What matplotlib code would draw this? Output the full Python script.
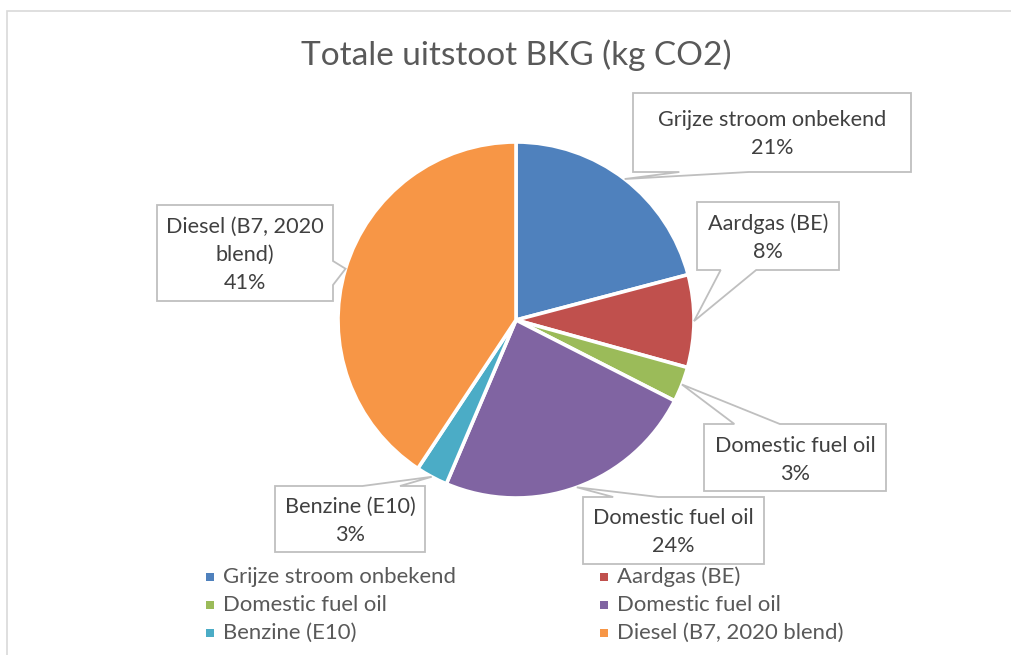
import numpy as np
import matplotlib
matplotlib.use('Agg')
import matplotlib.pyplot as plt
from matplotlib.patches import Polygon, Rectangle

# Data (percent of total CO2)
labels = ['Grijze stroom onbekend', 'Aardgas (BE)', 'Domestic fuel oil',
          'Domestic fuel oil', 'Benzine (E10)', 'Diesel (B7, 2020 blend)']
callout_text = [['Grijze stroom onbekend'], ['Aardgas (BE)'], ['Domestic fuel oil'],
                ['Domestic fuel oil'], ['Benzine (E10)'], ['Diesel (B7, 2020', 'blend)']]
values = [20.9, 8.4, 3.2, 23.9, 2.9, 40.7]
colors = ['#4F81BD', '#C0504D', '#9BBB59', '#8064A2', '#4BACC6', '#F79646']

W, H = 1011, 655
FONT = 'Lato'


def Y(py):
    # pixel row (from top) -> data y
    return H - py


# callout boxes in pixels: x0, y0(top), x1, y1(bottom)
boxes = [(633, 93, 911, 172), (697, 202, 839, 270), (704, 424, 886, 491),
         (583, 497, 764, 564), (275, 486, 425, 552), (157, 205, 333, 301)]

fig = plt.figure(figsize=(W / 100, H / 100), dpi=100)
ax = fig.add_axes([0, 0, 1, 1])

cx, cy, r = 516, Y(320), 178
wedges, _ = ax.pie(values, colors=colors, startangle=90, counterclock=False,
                   center=(cx, cy), radius=r,
                   wedgeprops=dict(edgecolor='white', linewidth=2.6))
ax.set_xlim(0, W)
ax.set_ylim(0, H)
ax.set_aspect('equal')
ax.axis('off')

# chart frame
ax.add_patch(Rectangle((7, Y(1000)), 2000, 1000 - 11, fill=False,
                       edgecolor='#D9D9D9', linewidth=1.2))

ax.text(516, Y(55), 'Totale uitstoot BKG (kg CO2)', ha='center', va='center',
        fontsize=24, color='#595959', family=FONT)


def callout(box, tip, lines, pct):
    x0, y0, x1, y1 = box
    top, bot = Y(y0), Y(y1)
    tx, ty = tip
    w, h = x1 - x0, top - bot
    # pick the side facing the tip
    if ty < bot:
        side = 'bottom'
    elif ty > top:
        side = 'top'
    elif tx < x0:
        side = 'left'
    else:
        side = 'right'
    if side in ('top', 'bottom'):
        near = tx < x0 + w / 2
        a, b = (x0 + w / 6, x0 + w * 5 / 12) if near else (x0 + w * 7 / 12, x0 + w * 5 / 6)
    else:
        near = ty < bot + h / 2
        a, b = (bot + h / 6, bot + h * 5 / 12) if near else (bot + h * 7 / 12, bot + h * 5 / 6)
    # walk clockwise from top-left
    pts = [(x0, top)]
    if side == 'top':
        pts += [(a, top), (tx, ty), (b, top)]
    pts.append((x1, top))
    if side == 'right':
        pts += [(x1, b), (tx, ty), (x1, a)]
    pts.append((x1, bot))
    if side == 'bottom':
        pts += [(b, bot), (tx, ty), (a, bot)]
    pts.append((x0, bot))
    if side == 'left':
        pts += [(x0, a), (tx, ty), (x0, b)]
    ax.add_patch(Polygon(pts, closed=True, facecolor='white', edgecolor='#BFBFBF',
                         linewidth=1.3, zorder=3))
    all_lines = lines + [pct]
    step = 28
    mid = (top + bot) / 2 - 2
    start = mid + step * (len(all_lines) - 1) / 2
    for i, ln in enumerate(all_lines):
        ax.text((x0 + x1) / 2, start - i * step, ln, ha='center', va='center',
                fontsize=15.6, color='#404040', family=FONT, zorder=4)


for wdg, box, txt, v in zip(wedges, boxes, callout_text, values):
    ang = np.deg2rad((wdg.theta1 + wdg.theta2) / 2)
    tip = (cx + r * np.cos(ang), cy + r * np.sin(ang))
    callout(box, tip, txt, f'{v:.0f}%')

# legend, row-wise in two columns
col_x = [210, 604]
row_y = [577, 605, 633]
for i, (lab, col) in enumerate(zip(labels, colors)):
    x = col_x[i % 2]
    y = Y(row_y[i // 2])
    ax.add_patch(Rectangle((x - 4, y - 4), 8, 8, facecolor=col, edgecolor='none'))
    ax.text(x + 13, y, lab, ha='left', va='center', fontsize=15.9,
            color='#595959', family=FONT)

fig.savefig('out.png', dpi=100)
